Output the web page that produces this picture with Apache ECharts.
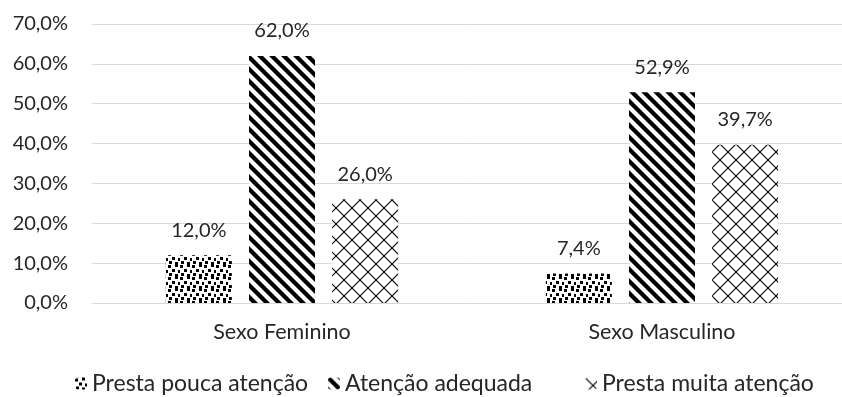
<!DOCTYPE html>
<html>
<head>
<meta charset="utf-8">
<script src="https://cdn.jsdelivr.net/npm/echarts@6/dist/echarts.min.js"></script>
<style>
  html, body { margin: 0; padding: 0; background: #fff; }
  #chart { width: 842px; height: 397px; }
</style>
</head>
<body>
<div id="chart"></div>
<script>
// Categories, series and axis ticks
const categories = ['Sexo Feminino', 'Sexo Masculino'];
const seriesNames = ['Presta pouca atenção', 'Atenção adequada', 'Presta muita atenção'];
const poucaAtencao = [12.0, 7.4];
const atencaoAdequada = [62.0, 52.9];
const muitaAtencao = [26.0, 39.7];
const yTicks = [0, 10, 20, 30, 40, 50, 60, 70];

// Pattern tiles drawn on small canvases
function tile(size, draw) {
  const c = document.createElement('canvas');
  c.width = size; c.height = size;
  const ctx = c.getContext('2d');
  ctx.fillStyle = '#fff';
  ctx.fillRect(0, 0, size, size);
  ctx.fillStyle = '#000';
  ctx.strokeStyle = '#000';
  draw(ctx, size);
  return { image: c, repeat: 'repeat' };
}

// confetti: scattered small squares
const confetti = tile(12, (ctx) => {
  const pts = [[0, 1], [7, 0], [4, 5], [10, 6], [1, 9], [7, 10]];
  pts.forEach(([x, y]) => ctx.fillRect(x, y, 3, 3));
});

// wide downward diagonal stripes
const stripes = tile(12, (ctx, s) => {
  ctx.lineWidth = 4.2;
  for (let k = -1; k <= 1; k++) {
    ctx.beginPath();
    ctx.moveTo(k * s - 4, -4);
    ctx.lineTo(k * s + s + 4, s + 4);
    ctx.stroke();
  }
});

// diagonal trellis
const trellis = tile(16, (ctx, s) => {
  ctx.lineWidth = 1.1;
  ctx.beginPath();
  ctx.moveTo(0, 0); ctx.lineTo(s, s);
  ctx.moveTo(s, 0); ctx.lineTo(0, s);
  ctx.stroke();
});

const fills = [confetti, stripes, trellis];
const values = [poucaAtencao, atencaoAdequada, muitaAtencao];
const legendLeft = [75, 328, 585];

const fmt = (v) => v.toFixed(1).replace('.', ',') + '%';
const font = 'Lato';
const textColor = '#262626';

const chart = echarts.init(document.getElementById('chart'));
chart.setOption({
  animation: false,
  textStyle: { fontFamily: font },
  grid: { left: 92, width: 760, top: 24, bottom: 94, containLabel: false, outerBoundsMode: 'none' },
  legend: seriesNames.map((name, i) => ({
    left: legendLeft[i],
    top: 372,
    padding: 0,
    itemWidth: 12,
    itemHeight: 12,
    textStyle: { fontFamily: font, fontSize: 23, color: textColor },
    data: [name]
  })),
  xAxis: {
    type: 'category',
    data: categories,
    axisLine: { lineStyle: { color: '#d9d9d9', width: 1 } },
    axisTick: { show: false },
    axisLabel: { fontFamily: font, fontSize: 21.5, color: textColor, margin: 18 }
  },
  yAxis: {
    type: 'value',
    min: yTicks[0],
    max: yTicks[yTicks.length - 1],
    interval: 10,
    axisLine: { show: false },
    axisTick: { show: false },
    splitLine: { lineStyle: { color: '#d9d9d9', width: 1 } },
    axisLabel: {
      fontFamily: font, fontSize: 20, color: textColor, margin: 24,
      formatter: (v) => fmt(v)
    }
  },
  series: seriesNames.map((name, i) => ({
    name,
    type: 'bar',
    data: values[i],
    barWidth: 66,
    barGap: '26%',
    itemStyle: { color: fills[i] },
    label: {
      show: true,
      position: 'top',
      distance: 15,
      fontFamily: font,
      fontSize: 20,
      color: textColor,
      formatter: (p) => fmt(p.value)
    }
  }))
});
</script>
</body>
</html>
